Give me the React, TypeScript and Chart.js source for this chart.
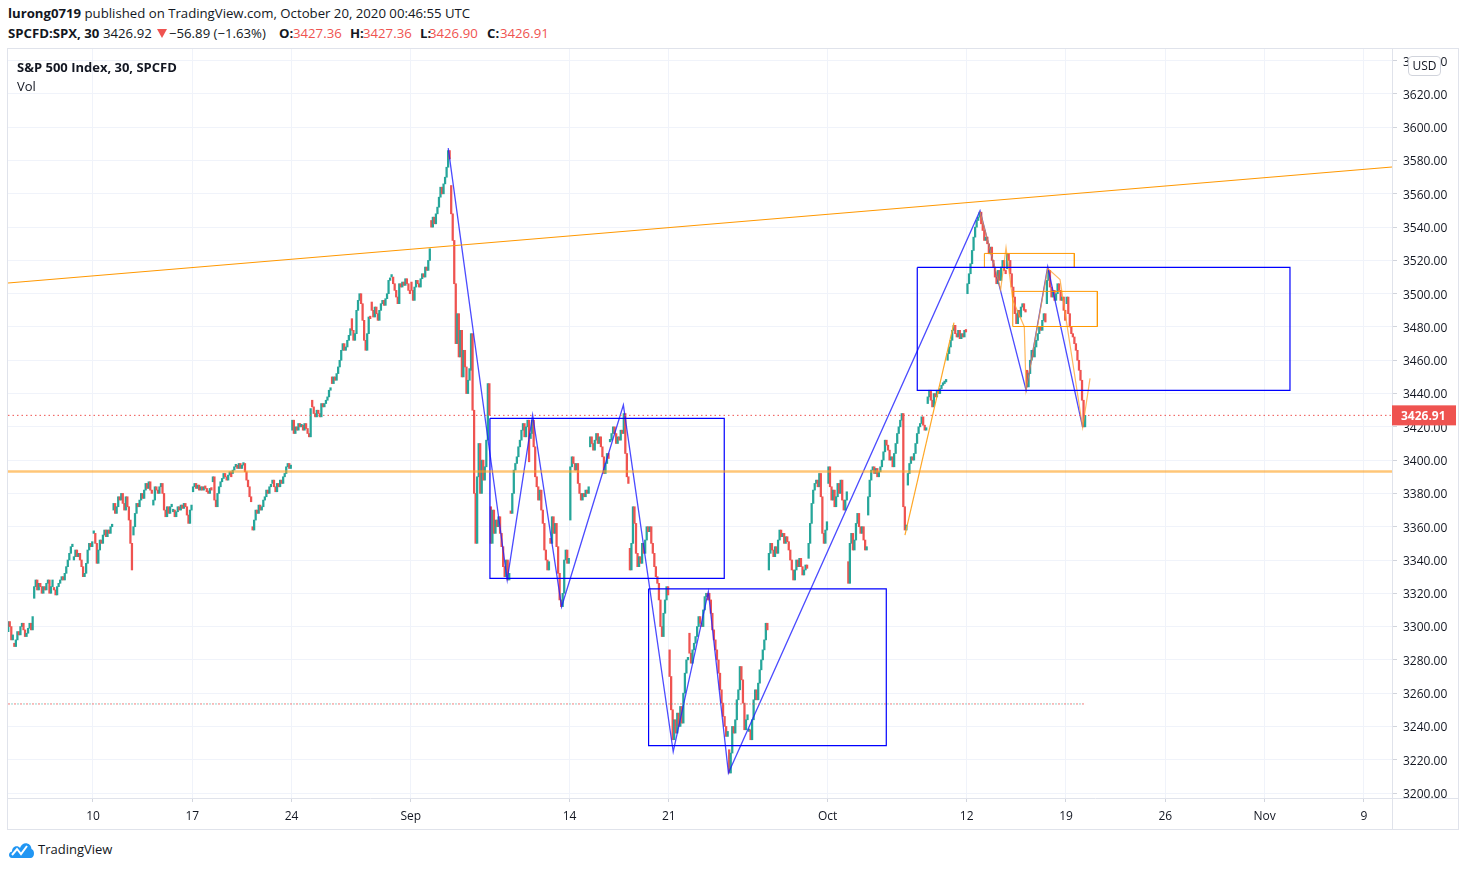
import React, { useEffect, useRef } from "react";
import { Chart, registerables } from "chart.js";

Chart.register(...registerables);

// ---------- DATA ----------
const BARS_PER_SESSION = 13; // 30-minute bars in a regular session

// trading-day index (Aug 10 2020 = 0), one entry per session, Aug 3 .. Oct 19
const sessionDays = [
  -5, -4, -3, -2, -1, 0, 1, 2, 3, 4, 5, 6, 7, 8, 9, 10, 11, 12, 13, 14, 15, 16, 17, 18, 19, 20, 21, 22, 23, 24,
  25, 26, 27, 28, 29, 30, 31, 32, 33, 34, 35, 36, 37, 38, 39, 40, 41, 42, 43, 44, 45, 46, 47, 48, 49,
];

const sessionOpens = [
  3288, 3290, 3317, 3323, 3340, 3356, 3370, 3355, 3373, 3369, 3381, 3387, 3392, 3360, 3386, 3418, 3436, 3450,
  3485, 3495, 3510, 3507, 3544, 3565, 3454, 3372, 3369, 3413, 3353, 3364, 3408, 3411, 3347, 3357, 3286, 3296,
  3320, 3226, 3237, 3334, 3351, 3341, 3386, 3339, 3367, 3409, 3385, 3434, 3460, 3500, 3534, 3515, 3454, 3494,
  3494,
];

// 13 bar closes per session
const sessionCloses = [
  [3290, 3286, 3292, 3296, 3300, 3298, 3302, 3300, 3297, 3303, 3300, 3292, 3295], // Aug 3
  [3288, 3292, 3297, 3295, 3300, 3302, 3298, 3294, 3296, 3299, 3302, 3298, 3306], // Aug 4
  [3324, 3328, 3322, 3326, 3324, 3320, 3324, 3322, 3326, 3328, 3320, 3324, 3328], // Aug 5
  [3322, 3319, 3324, 3326, 3328, 3330, 3328, 3332, 3336, 3340, 3344, 3348, 3349], // Aug 6
  [3342, 3346, 3342, 3344, 3340, 3336, 3330, 3332, 3338, 3346, 3350, 3348, 3351], // Aug 7
  [3356, 3350, 3338, 3346, 3352, 3350, 3355, 3358, 3354, 3358, 3356, 3360, 3360], // Aug 10
  [3374, 3368, 3372, 3378, 3376, 3380, 3374, 3370, 3378, 3372, 3364, 3350, 3334], // Aug 11
  [3360, 3368, 3374, 3372, 3376, 3380, 3377, 3382, 3386, 3383, 3387, 3382, 3380], // Aug 12
  [3376, 3384, 3382, 3380, 3384, 3386, 3380, 3370, 3366, 3372, 3368, 3372, 3373], // Aug 13
  [3370, 3366, 3369, 3372, 3370, 3373, 3371, 3374, 3372, 3367, 3362, 3370, 3373], // Aug 14
  [3384, 3386, 3383, 3385, 3382, 3384, 3382, 3384, 3383, 3381, 3380, 3383, 3382], // Aug 17
  [3390, 3376, 3372, 3380, 3384, 3387, 3389, 3392, 3390, 3388, 3391, 3393, 3390], // Aug 18
  [3394, 3396, 3397, 3395, 3398, 3395, 3397, 3398, 3393, 3388, 3384, 3378, 3375], // Aug 19
  [3358, 3364, 3370, 3368, 3373, 3370, 3372, 3376, 3378, 3382, 3380, 3384, 3385], // Aug 20
  [3388, 3384, 3381, 3386, 3384, 3388, 3386, 3390, 3392, 3396, 3398, 3395, 3397], // Aug 21
  [3424, 3416, 3420, 3418, 3422, 3420, 3421, 3418, 3422, 3419, 3416, 3414, 3431], // Aug 24
  [3432, 3428, 3426, 3430, 3428, 3426, 3434, 3432, 3434, 3436, 3438, 3442, 3443], // Aug 25
  [3446, 3450, 3448, 3452, 3456, 3460, 3466, 3470, 3466, 3468, 3472, 3475, 3479], // Aug 26
  [3478, 3472, 3476, 3490, 3496, 3500, 3494, 3484, 3472, 3466, 3476, 3486, 3485], // Aug 27
  [3490, 3486, 3492, 3488, 3484, 3490, 3494, 3496, 3493, 3497, 3500, 3508, 3508], // Aug 28
  [3510, 3506, 3502, 3498, 3494, 3506, 3504, 3507, 3505, 3509, 3506, 3502, 3500], // Aug 31
  [3502, 3496, 3504, 3508, 3506, 3504, 3509, 3512, 3510, 3516, 3514, 3520, 3527], // Sep 1
  [3540, 3546, 3542, 3548, 3552, 3558, 3564, 3560, 3566, 3570, 3576, 3586, 3581], // Sep 2
  [3548, 3532, 3506, 3470, 3488, 3462, 3478, 3450, 3466, 3456, 3440, 3448, 3455], // Sep 3
  [3476, 3430, 3380, 3350, 3390, 3410, 3380, 3400, 3388, 3396, 3412, 3446, 3427], // Sep 4
  [3350, 3370, 3356, 3364, 3360, 3366, 3356, 3348, 3336, 3330, 3340, 3328, 3332], // Sep 8
  [3368, 3380, 3394, 3398, 3402, 3408, 3412, 3418, 3422, 3414, 3420, 3424, 3399], // Sep 9
  [3416, 3424, 3408, 3390, 3384, 3376, 3382, 3370, 3362, 3346, 3340, 3334, 3339], // Sep 10
  [3350, 3366, 3356, 3362, 3348, 3332, 3316, 3312, 3320, 3340, 3346, 3338, 3341], // Sep 11
  [3396, 3402, 3398, 3394, 3398, 3386, 3380, 3376, 3380, 3378, 3382, 3380, 3384], // Sep 14
  [3414, 3410, 3406, 3412, 3416, 3410, 3414, 3408, 3402, 3392, 3398, 3404, 3401], // Sep 15
  [3412, 3416, 3420, 3416, 3410, 3414, 3412, 3418, 3416, 3428, 3404, 3390, 3386], // Sep 16
  [3334, 3350, 3372, 3362, 3344, 3336, 3342, 3338, 3350, 3344, 3352, 3360, 3357], // Sep 17
  [3360, 3350, 3344, 3336, 3330, 3326, 3316, 3300, 3294, 3308, 3316, 3324, 3319], // Sep 18
  [3270, 3250, 3232, 3244, 3236, 3248, 3240, 3252, 3242, 3260, 3272, 3280, 3281], // Sep 21
  [3284, 3278, 3286, 3290, 3294, 3300, 3306, 3302, 3300, 3310, 3318, 3320, 3316], // Sep 22
  [3316, 3308, 3298, 3292, 3286, 3280, 3272, 3262, 3254, 3246, 3240, 3234, 3237], // Sep 23
  [3212, 3224, 3240, 3236, 3244, 3256, 3262, 3276, 3268, 3254, 3238, 3244, 3247], // Sep 24
  [3238, 3232, 3244, 3256, 3262, 3256, 3266, 3274, 3280, 3286, 3292, 3302, 3298], // Sep 25
  [3344, 3350, 3346, 3342, 3348, 3344, 3352, 3358, 3354, 3356, 3350, 3354, 3351], // Sep 28
  [3346, 3340, 3334, 3328, 3334, 3340, 3336, 3341, 3336, 3331, 3334, 3337, 3335], // Sep 29
  [3350, 3362, 3374, 3382, 3386, 3388, 3384, 3392, 3378, 3356, 3350, 3358, 3363], // Sep 30
  [3396, 3384, 3376, 3382, 3372, 3378, 3386, 3380, 3388, 3376, 3370, 3376, 3381], // Oct 1
  [3326, 3350, 3356, 3346, 3352, 3362, 3368, 3360, 3356, 3360, 3352, 3346, 3348], // Oct 2
  [3378, 3388, 3394, 3396, 3392, 3395, 3390, 3393, 3396, 3400, 3405, 3412, 3409], // Oct 5
  [3406, 3400, 3402, 3396, 3404, 3410, 3416, 3420, 3424, 3428, 3372, 3358, 3361], // Oct 6
  [3392, 3398, 3402, 3400, 3404, 3410, 3416, 3420, 3422, 3426, 3421, 3418, 3419], // Oct 7
  [3438, 3442, 3436, 3432, 3440, 3438, 3442, 3440, 3443, 3445, 3446, 3447, 3447], // Oct 8
  [3464, 3468, 3472, 3478, 3481, 3476, 3474, 3478, 3473, 3476, 3474, 3478, 3477], // Oct 9
  [3506, 3512, 3518, 3526, 3534, 3540, 3544, 3546, 3549, 3542, 3538, 3532, 3534], // Oct 12
  [3530, 3524, 3528, 3520, 3516, 3510, 3506, 3514, 3508, 3516, 3520, 3514, 3512], // Oct 13
  [3524, 3520, 3512, 3504, 3498, 3488, 3482, 3490, 3486, 3492, 3494, 3490, 3489], // Oct 14
  [3444, 3452, 3460, 3466, 3462, 3468, 3472, 3476, 3480, 3478, 3484, 3488, 3483], // Oct 15
  [3508, 3514, 3504, 3498, 3502, 3496, 3500, 3506, 3502, 3496, 3498, 3490, 3484], // Oct 16
  [3498, 3488, 3480, 3476, 3474, 3470, 3466, 3460, 3454, 3448, 3436, 3420, 3426.91], // Oct 19
];

const xTickDays = [0, 5, 10, 16, 24, 29, 37, 44, 49, 54, 59, 64];
const xTickLabels = ["10", "17", "24", "Sep", "14", "21", "Oct", "12", "19", "26", "Nov", "9"];
const yTickValues = [
  3200, 3220, 3240, 3260, 3280, 3300, 3320, 3340, 3360, 3380, 3400, 3420, 3440, 3460, 3480, 3500, 3520, 3540,
  3560, 3580, 3600, 3620, 3640,
];
const xRange = [-4.2806, 65.418];
const yRange = [3197.0, 3647.03];

const lastPrice = 3426.91;
const supportLevel = 3393.1;
const lowerLevel = 3253.5;
const lowerLevelEnd = 49.96;

// drawings in (trading day, price)
const trendLine = [
  { x: -4.2806, y: 3506.44 },
  { x: 65.418, y: 3576.14 },
];
const blueZigzag = [
  { x: 17.89, y: 3587.5 },
  { x: 20.86, y: 3328.0 },
  { x: 22.14, y: 3427.1 },
  { x: 23.6, y: 3311.9 },
  { x: 26.71, y: 3433.1 },
  { x: 29.22, y: 3224.8 },
  { x: 30.99, y: 3321.0 },
  { x: 32.0, y: 3212.0 },
  { x: 44.67, y: 3549.9 },
  { x: 46.99, y: 3442.1 },
  { x: 48.08, y: 3516.2 },
  { x: 49.84, y: 3419.7 },
];
const orangeZigzagA = [
  { x: 40.89, y: 3355.0 },
  { x: 43.36, y: 3482.6 },
];
const orangeZigzagB = [
  { x: 44.67, y: 3549.3 },
  { x: 45.71, y: 3502.5 },
  { x: 45.98, y: 3527.6 },
  { x: 46.32, y: 3496.2 },
  { x: 46.9, y: 3480.2 },
  { x: 46.99, y: 3442.1 },
  { x: 48.08, y: 3515.2 },
  { x: 48.7, y: 3508.5 },
  { x: 49.84, y: 3419.6 },
  { x: 50.21, y: 3449.1 },
];
// [dayStart, dayEnd, priceTop, priceBottom]
const blueBoxes = [
  [19.99, 31.79, 3425.1, 3329.0],
  [27.98, 39.95, 3322.7, 3228.5],
  [41.51, 60.28, 3515.8, 3441.9],
];
const orangeBoxes = [
  [44.89, 49.42, 3524.2, 3515.8],
  [46.32, 50.58, 3501.4, 3480.3],
];

// ---------- STYLE ----------
const UP = "#26a69a";
const DOWN = "#ef5350";
const GRID = "#f0f3fa";
const BORDER = "#e0e3eb";
const TEXT = "#131722";
const FONT = "'Open Sans', 'Noto Sans', sans-serif";

function boxPath(b: number[]) {
  const [x1, x2, y1, y2] = b;
  return [
    { x: x1, y: y1 },
    { x: x2, y: y1 },
    { x: x2, y: y2 },
    { x: x1, y: y2 },
    { x: x1, y: y1 },
  ];
}

function lineDs(data: any[], color: string, width: number, extra: any = {}) {
  return {
    type: "line",
    data,
    borderColor: color,
    borderWidth: width,
    pointRadius: 0,
    pointHoverRadius: 0,
    fill: false,
    tension: 0,
    order: 0,
    clip: 0,
    ...extra,
  };
}

const framePlugin = {
  id: "tvFrame",
  afterDraw(chart: any) {
    const { ctx, chartArea, width, height } = chart;
    ctx.save();
    ctx.strokeStyle = BORDER;
    ctx.lineWidth = 1;
    const rx = Math.round(chartArea.right) + 0.5;
    const by = Math.round(chartArea.bottom) + 0.5;
    ctx.beginPath();
    ctx.moveTo(rx, 0);
    ctx.lineTo(rx, height);
    ctx.moveTo(0, by);
    ctx.lineTo(width, by);
    ctx.stroke();
    const y = chart.scales.y.getPixelForValue(lastPrice);
    ctx.fillStyle = DOWN;
    ctx.fillRect(chartArea.right, y - 10, 64, 20);
    ctx.fillStyle = "#ffffff";
    ctx.font = `bold 12px ${FONT}`;
    ctx.textBaseline = "middle";
    ctx.textAlign = "left";
    ctx.fillText(lastPrice.toFixed(2), chartArea.right + 9, y + 1);
    ctx.restore();
  },
};

export default function App() {
  const ref = useRef<HTMLCanvasElement>(null);

  useEffect(() => {
    document.body.style.margin = "0";
    const candles: any[] = [];
    const colors: string[] = [];
    sessionDays.forEach((day, i) => {
      const closes = sessionCloses[i];
      closes.forEach((c, j) => {
        const o = j === 0 ? sessionOpens[i] : closes[j - 1];
        candles.push({ x: day + (j + 0.5) / BARS_PER_SESSION, y: [Math.min(o, c), Math.max(o, c)] });
        colors.push(c >= o ? UP : DOWN);
      });
    });

    const datasets: any[] = [
      lineDs(trendLine, "#ff9800", 1.2),
      lineDs(
        [
          { x: xRange[0], y: supportLevel },
          { x: xRange[1], y: supportLevel },
        ],
        "rgba(255,160,30,0.6)",
        2.5
      ),
      lineDs(
        [
          { x: xRange[0], y: lastPrice },
          { x: xRange[1], y: lastPrice },
        ],
        DOWN,
        1,
        { borderDash: [1.5, 3] }
      ),
      lineDs(
        [
          { x: xRange[0], y: lowerLevel },
          { x: lowerLevelEnd, y: lowerLevel },
        ],
        "rgba(239,83,80,0.75)",
        1,
        { borderDash: [2, 4] }
      ),
      lineDs(
        [
          { x: xRange[0], y: lowerLevel },
          { x: lowerLevelEnd, y: lowerLevel },
        ],
        "rgba(38,166,154,0.5)",
        1,
        { borderDash: [2, 4], borderDashOffset: 3 }
      ),
      ...blueBoxes.map((b) => lineDs(boxPath(b), "#0000ff", 1.2)),
      ...orangeBoxes.map((b) => lineDs(boxPath(b), "#ff9800", 1)),
      lineDs(orangeZigzagA, "#ffa726", 1.2),
      lineDs(orangeZigzagB, "rgba(255,160,40,0.75)", 1.2),
      lineDs(blueZigzag, "rgba(30,30,255,0.8)", 1.3),
      {
        type: "bar",
        data: candles,
        backgroundColor: colors,
        borderWidth: 0,
        barThickness: 1.6,
        minBarLength: 2.5,
        order: 10,
        clip: 0,
      },
    ];

    const chart = new Chart(ref.current as HTMLCanvasElement, {
      type: "bar",
      data: { datasets },
      options: {
        animation: false,
        responsive: false,
        maintainAspectRatio: false,
        layout: { padding: 0 },
        events: [],
        plugins: { legend: { display: false }, tooltip: { enabled: false } },
        scales: {
          x: {
            type: "linear",
            min: xRange[0],
            max: xRange[1],
            offset: false,
            bounds: "data",
            grid: { color: GRID, offset: false, tickLength: 4, tickColor: "#d1d4dc", drawOnChartArea: true },
            border: { display: false },
            ticks: {
              autoSkip: false,
              maxRotation: 0,
              padding: 7,
              color: TEXT,
              font: { family: FONT, size: 12 },
              callback: (_v: any, index: number) => xTickLabels[index],
            },
            afterBuildTicks: (s: any) => {
              s.ticks = xTickDays.map((v) => ({ value: v }));
            },
            afterFit: (s: any) => {
              s.height = 31;
              s.paddingLeft = 0;
              s.paddingRight = 0;
            },
          },
          y: {
            type: "linear",
            position: "right",
            min: yRange[0],
            max: yRange[1],
            beginAtZero: false,
            bounds: "data",
            grid: { color: GRID, tickLength: 5, tickColor: "#d1d4dc" },
            border: { display: false },
            ticks: {
              autoSkip: false,
              padding: 6,
              labelOffset: 1.5,
              color: TEXT,
              font: { family: FONT, size: 12 },
              callback: (v: any) => Number(v).toFixed(2),
            },
            afterBuildTicks: (s: any) => {
              s.ticks = yTickValues.map((v) => ({ value: v }));
            },
            afterFit: (s: any) => {
              s.width = 66;
              s.paddingTop = 0;
              s.paddingBottom = 0;
            },
          },
        },
      } as any,
      plugins: [framePlugin],
    } as any);
    return () => chart.destroy();
  }, []);

  const red = { color: DOWN };
  const hdr = (left: number, top: number) => ({
    position: "absolute" as const,
    left,
    top,
    fontSize: 13.2,
    lineHeight: "18px",
    whiteSpace: "nowrap" as const,
  });
  return (
    <div
      style={{
        position: "absolute",
        left: 0,
        top: 0,
        width: 1466,
        height: 870,
        background: "#ffffff",
        fontFamily: FONT,
        color: TEXT,
        overflow: "hidden",
      }}
    >
      <div style={hdr(8, 4)}>
        <b>lurong0719</b> published on TradingView.com, October 20, 2020 00:46:55 UTC
      </div>
      <div style={{ ...hdr(8, 24), fontWeight: 700 }}>SPCFD:SPX, 30</div>
      <div style={hdr(103, 24)}>3426.92</div>
      <div
        style={{
          position: "absolute",
          left: 157,
          top: 29,
          width: 0,
          height: 0,
          borderLeft: "5px solid transparent",
          borderRight: "5px solid transparent",
          borderTop: `9px solid ${DOWN}`,
        }}
      />
      <div style={hdr(169, 24)}>{"\u221256.89 (\u22121.63%)"}</div>
      <div style={{ ...hdr(279, 24), fontWeight: 700 }}>O:</div>
      <div style={{ ...hdr(293, 24), ...red }}>3427.36</div>
      <div style={{ ...hdr(350, 24), fontWeight: 700 }}>H:</div>
      <div style={{ ...hdr(363, 24), ...red }}>3427.36</div>
      <div style={{ ...hdr(420, 24), fontWeight: 700 }}>L:</div>
      <div style={{ ...hdr(429, 24), ...red }}>3426.90</div>
      <div style={{ ...hdr(487, 24), fontWeight: 700 }}>C:</div>
      <div style={{ ...hdr(500, 24), ...red }}>3426.91</div>
      <div
        style={{
          position: "absolute",
          left: 7,
          top: 48,
          width: 1452,
          height: 782,
          border: `1px solid ${BORDER}`,
          boxSizing: "border-box",
        }}
      >
        <canvas ref={ref} width={1450} height={780} style={{ position: "absolute", left: 0, top: 0, width: 1450, height: 780 }} />
      </div>
      <div style={{ position: "absolute", left: 17, top: 58, fontSize: 13, lineHeight: "18px", fontWeight: 700, whiteSpace: "nowrap" }}>
        S&amp;P 500 Index, 30, SPCFD
      </div>
      <div style={{ position: "absolute", left: 17, top: 77, fontSize: 13, lineHeight: "18px", whiteSpace: "nowrap" }}>Vol</div>
      <div
        style={{
          position: "absolute",
          left: 1408,
          top: 56,
          width: 33,
          height: 20,
          boxSizing: "border-box",
          border: "1px solid #d1d4dc",
          borderRadius: 4,
          background: "#ffffff",
          fontSize: 12,
          lineHeight: "18px",
          textAlign: "center",
        }}
      >
        USD
      </div>
      <svg style={{ position: "absolute", left: 8, top: 840 }} width="27" height="19" viewBox="0 0 27 19">
        <path d="M4 18 C0 18 0 12 4 11.5 C4 6 10 5 12 8 C14 1 23 2 23.5 9 C27 10 27 18 22.5 18 Z" fill="#2196f3" />
        <polyline points="4,15 9,9 13,14 19,6" stroke="#ffffff" strokeWidth="2" fill="none" />
      </svg>
      <div style={{ position: "absolute", left: 38, top: 840, fontSize: 13, lineHeight: "18px", whiteSpace: "nowrap" }}>
        TradingView
      </div>
    </div>
  );
}
